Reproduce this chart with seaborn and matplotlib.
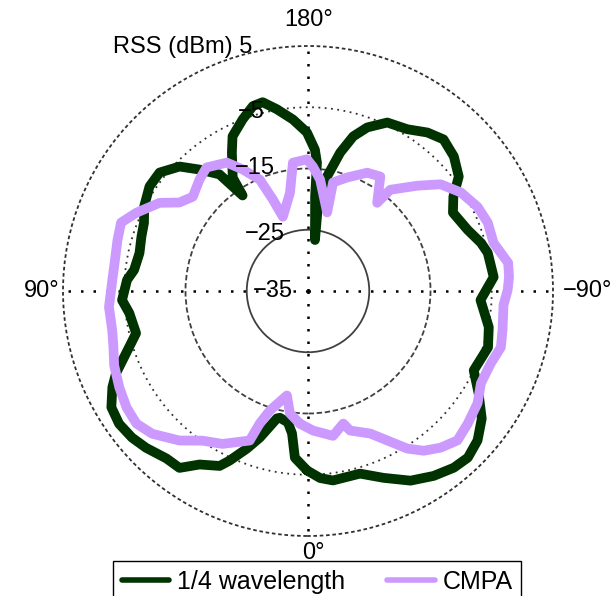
import numpy as np
import pandas as pd
import matplotlib
matplotlib.use("Agg")
import matplotlib.pyplot as plt
import seaborn as sns

# ---- data (angle in degrees, RSS in dBm) ----
qw_theta = [0.3, 4.5, 6.4, 8.7, 12.5, 13.7, 18.2, 21.2, 24.8, 26.8, 32.0, 36.0, 40.2, 45.9,
            50.2, 54.9, 59.4, 63.8, 66.8, 71.1, 76.2, 83.0, 87.2, 93.5, 96.9, 102.7, 108.0,
            112.6, 117.3, 123.4, 128.6, 134.1, 138.2, 142.8, 145.6, 146.4, 151.2, 154.0,
            159.2, 163.4, 166.5, 170.3, 175.0, 179.6, 182.8, 184.0, 184.3, 187.8, 186.6,
            189.5, 193.1, 196.3, 199.9, 205.2, 211.6, 217.0, 221.8, 227.3, 232.8, 237.0,
            241.6, 249.0, 254.4, 258.0, 265.7, 273.0, 281.3, 287.4, 295.6, 301.0, 306.3,
            311.4, 316.2, 320.5, 325.8, 331.6, 338.0, 344.1, 352.5, 356.3, 360.3]
qw_rss = [-5.7, -7.7, -11.6, -13.3, -13.8, -13.6, -9.8, -7.4, -4.5, -3.0, -1.6, 0.7, 0.8, 1.8,
          2.4, 2.7, 2.3, 0.6, -0.9, -3.6, -6.1, -5.6, -4.6, -5.4, -6.4, -6.8, -6.4,
          -6.0, -4.9, -4.0, -4.0, -5.8, -8.4, -11.1, -16.1, -12.8, -9.2, -6.9,
          -5.0, -3.5, -3.3, -4.9, -6.9, -9.1, -11.9, -14.0, -19.5, -26.6, -20.8,
          -16.0, -11.8, -8.7, -6.6, -4.6, -4.0, -2.6, -1.8, -2.6, -4.1, -6.7,
          -8.1, -7.1, -5.7, -5.0, -4.6, -6.8, -4.9, -4.2, -5.0, -2.5, 0.2,
          1.9, 2.7, 2.4, 1.5, 0.2, -2.1, -4.0, -3.8, -4.4, -5.7]

cmpa_theta = [3.5, 8.4, 11.4, 15.0, 17.7, 20.0, 21.3, 29.2, 35.2, 40.7, 47.5, 52.3, 57.3,
              62.9, 69.0, 74.4, 78.7, 85.4, 93.2, 97.1, 105.0, 110.1, 114.5, 120.7, 124.5,
              129.3, 135.8, 140.6, 147.7, 151.8, 156.6, 159.0, 161.3, 169.6, 173.3, 179.6,
              182.3, 186.2, 193.7, 193.0, 199.0, 206.6, 212.3, 218.1, 219.1, 226.1, 231.2,
              237.2, 243.6, 249.2, 255.5, 262.0, 266.0, 269.7, 274.1, 281.4, 286.3, 291.6,
              298.1, 303.5, 309.7, 315.0, 319.8, 324.1, 327.8, 332.1, 336.4, 343.2, 345.1,
              350.2, 357.9, 363.5]
cmpa_rss = [-13.3, -14.8, -17.6, -16.0, -14.5, -12.0, -8.8, -6.4, -5.1, -2.8, -0.5, 0.4, 0.2,
            -0.4, -1.1, -2.0, -2.4, -2.4, -3.0, -3.1, -2.8, -2.5, -4.2, -6.8, -9.5,
            -10.7, -9.6, -8.9, -10.2, -12.5, -15.2, -19.0, -22.2, -18.7, -13.9, -13.5,
            -14.7, -16.7, -21.8, -16.8, -15.4, -13.4, -12.9, -16.7, -13.7, -10.2, -7.2,
            -5.3, -4.1, -3.6, -3.7, -2.0, -2.1, -2.4, -3.0, -2.6, -2.2, -2.9,
            -3.0, -1.8, -1.1, -0.5, -1.5, -2.8, -4.6, -7.4, -9.6, -11.2, -12.6,
            -11.0, -12.2, -13.3]

series_names = ["1/4 wavelength", "CMPA"]
ring_values = [-35, -25, -15, -5, 5]
ring_texts = ["−35", "−25", "−15", "−5", "RSS (dBm) 5"]
theta_ticks = [0, 90, 180, 270]
theta_labels = ["0°", "90°", "180°", "−90°"]

# ---- style ----
sns.set_theme(style="white")
plt.rcParams['font.family'] = ['Liberation Sans', 'DejaVu Sans']
plt.rcParams['text.color'] = 'black'
FS = 17

colors = {"1/4 wavelength": "#003300", "CMPA": "#CC99FF"}

df = pd.concat([
    pd.DataFrame({"theta": np.deg2rad(qw_theta), "rss": qw_rss, "series": series_names[0]}),
    pd.DataFrame({"theta": np.deg2rad(cmpa_theta), "rss": cmpa_rss, "series": series_names[1]}),
])

fig = plt.figure(figsize=(6.12, 5.96), dpi=100)
ax = fig.add_axes([63 / 612, 60 / 596, 490 / 612, 490 / 596], projection="polar")
ax.set_theta_zero_location("S")
ax.set_theta_direction(-1)
ax.set_ylim(ring_values[0], ring_values[-1])

for name in series_names:
    sub = df[df["series"] == name]
    sns.lineplot(data=sub, x="theta", y="rss", ax=ax, sort=False, estimator=None,
                 color=colors[name], linewidth=7, label=name, legend=False)
for ln in ax.get_lines():
    ln.set_solid_joinstyle("round")
    ln.set_solid_capstyle("round")

# grid
ax.set_rgrids(ring_values[1:-1], labels=[""] * 3)
gl = ax.yaxis.get_gridlines()
styles = [("-", "#404040", 1.3), ((0, (3, 1.5)), "#404040", 1.3), ((0, (1, 2.5)), "#303030", 1.3)]
for g, (ls, c, lw) in zip(gl, styles):
    g.set_linestyle(ls)
    g.set_color(c)
    g.set_linewidth(lw)
    g.set_visible(True)
ax.spines["polar"].set_linestyle((0, (1, 2.5)))
ax.spines["polar"].set_color("#303030")
ax.spines["polar"].set_linewidth(1.3)

ax.set_thetagrids(theta_ticks, labels=[""] * 4)
for g in ax.xaxis.get_gridlines():
    g.set_linestyle((0, (1, 4)))
    g.set_color("black")
    g.set_linewidth(1.8)
ax.grid(True)
ax.set_xlabel("")
ax.set_ylabel("")

# angle labels placed around the outer ring
t_offsets = {0: (5, -17, "center", "center"), 90: (-4, 0, "right", "center"),
             180: (1, 26, "center", "center"), 270: (10, 0, "left", "center")}
for tv, tl in zip(theta_ticks, theta_labels):
    ox, oy, ha, va = t_offsets[tv]
    ax.annotate(tl, xy=(np.deg2rad(tv), ring_values[-1]), xytext=(ox, oy),
                textcoords="offset pixels", ha=ha, va=va, fontsize=FS, color="black",
                annotation_clip=False, zorder=1)

# ring labels
offsets = [(-15, 0), (-23, -4), (-33, 0), (-43, -5), (-56, -1)]
for v, t, (ox, oy) in zip(ring_values, ring_texts, offsets):
    ax.annotate(t, xy=(np.pi, v), xytext=(ox, oy), textcoords="offset pixels",
                ha="right", va="center", fontsize=FS, color="black", zorder=5,
                annotation_clip=False)

# legend
handles = ax.get_lines()[:2]
leg = fig.legend(handles, series_names, loc="upper left",
                 bbox_to_anchor=(113 / 612, 35 / 596), bbox_transform=fig.transFigure,
                 ncol=2, fontsize=18, frameon=True, fancybox=False, edgecolor="black",
                 handlelength=1.9, handletextpad=0.3, columnspacing=1.7,
                 borderpad=0.35, borderaxespad=0, framealpha=1)
leg.get_frame().set_linewidth(1.0)
for lh in leg.get_lines():
    lh.set_linewidth(4)
for t in leg.get_texts():
    t.set_color("black")

fig.savefig("out.png", dpi=100)
